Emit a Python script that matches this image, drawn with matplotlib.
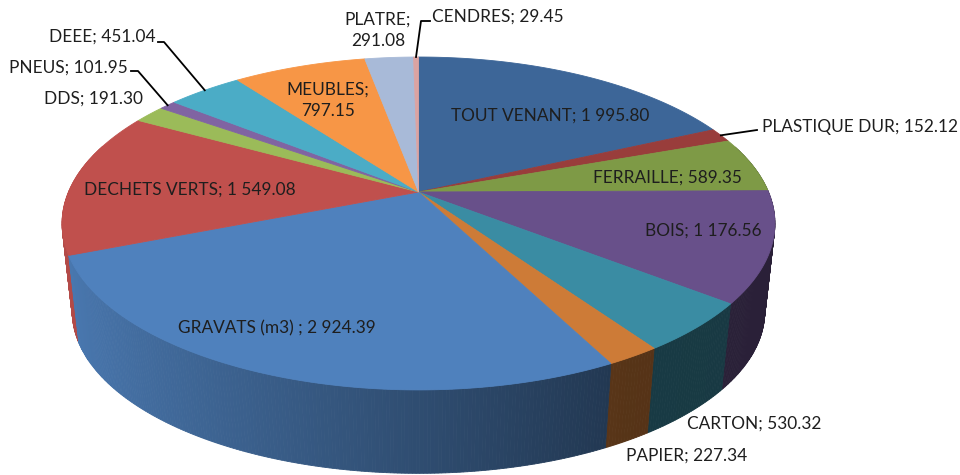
import numpy as np
import matplotlib.pyplot as plt
from matplotlib.patches import Polygon
from matplotlib.colors import to_rgb

plt.rcParams['font.family'] = ['Lato', 'DejaVu Sans']

# data, clockwise from 12 o'clock
categories = ['TOUT VENANT', 'PLASTIQUE DUR', 'FERRAILLE', 'BOIS', 'CARTON', 'PAPIER',
              'GRAVATS (m3) ', 'DECHETS VERTS', 'DDS', 'PNEUS', 'DEEE', 'MEUBLES',
              'PLATRE', 'CENDRES']
values = [1995.80, 152.12, 589.35, 1176.56, 530.32, 227.34, 2924.39, 1549.08,
          191.30, 101.95, 451.04, 797.15, 291.08, 29.45]
colors = ['#3D6698', '#993D3B', '#7E9A46', '#68508A', '#3A8CA3', '#CD7B37',
          '#4F81BD', '#C0504D', '#9BBB59', '#8064A2', '#4BACC6', '#F79646',
          '#A8BAD8', '#DBA3A2']

# label layout (pixel coords): x, y, ha, leader elbow or None
label_pos = {
    'TOUT VENANT': (550, 116, 'center', None),
    'PLASTIQUE DUR': (762, 127, 'left', [(757, 130)]),
    'FERRAILLE': (667, 178, 'center', None),
    'BOIS': (703, 231, 'center', None),
    'CARTON': (754, 424, 'center', None),
    'PAPIER': (687, 456, 'center', None),
    'GRAVATS (m3) ': (277, 328, 'center', None),
    'DECHETS VERTS': (190, 190, 'center', None),
    'DDS': (143, 99, 'right', None),
    'PNEUS': (128, 68, 'right', [(138, 71), (131, 71)]),
    'DEEE': (156, 37, 'right', [(164, 42), (158, 42)]),
    'MEUBLES': (328, 100, 'center', None),
    'PLATRE': (378, 30, 'center', None),
    'CENDRES': (432, 17, 'left', [(421, 21), (430, 21)]),
}
wrapped = {'MEUBLES', 'PLATRE'}

# projection of the pie (pixels)
CX, CY, A, B, K = 418.5, 192, 350, 160.5, 0.189
CY2, A2, B2 = 281, 340, 156


def ring(t, a, b, cy):
    s = 1 + K * np.sin(t)
    return CX + a * np.cos(t) / s, cy - b * np.sin(t) / s


fig = plt.figure(figsize=(9.6, 4.75), dpi=100)
ax = fig.add_axes([0, 0, 1, 1])
ax.set_xlim(0, 960)
ax.set_ylim(475, 0)
ax.axis('off')

vals = np.array(values)
cum = np.concatenate([[0], np.cumsum(vals)]) / vals.sum()
starts = np.pi / 2 - 2 * np.pi * cum[:-1]
ends = np.pi / 2 - 2 * np.pi * cum[1:]

# side walls, back to front
strips = []
for t0, t1, c in zip(starts, ends, colors):
    n = max(2, int(np.degrees(t0 - t1) / 0.5) + 1)
    ts = np.linspace(t0, t1, n)
    xt, yt = ring(ts, A, B, CY)
    xb, yb = ring(ts, A2, B2, CY2)
    base = np.array(to_rgb(c))
    for i in range(n - 1):
        tm = 0.5 * (ts[i] + ts[i + 1])
        if np.sin(tm) > 0.3:
            continue
        f = np.interp(np.cos(tm), [-1, 0.5, 1], [0.95, 0.42, 0.40])
        pts = [(xt[i], yt[i]), (xt[i + 1], yt[i + 1]), (xb[i + 1], yb[i + 1]), (xb[i], yb[i])]
        strips.append((np.sin(tm), pts, base * f))
strips.sort(key=lambda s: -s[0])
for _, pts, col in strips:
    ax.add_patch(Polygon(pts, closed=True, fc=col, ec=col, lw=0.6))

# top face
for t0, t1, c in zip(starts, ends, colors):
    n = max(2, int(np.degrees(t0 - t1) / 0.5) + 1)
    ts = np.linspace(t0, t1, n)
    xt, yt = ring(ts, A, B, CY)
    pts = [(CX, CY)] + list(zip(xt, yt))
    ax.add_patch(Polygon(pts, closed=True, fc=c, ec=c, lw=0.6))

# labels
for name, v, t0, t1 in zip(categories, values, starts, ends):
    x, y, ha, elbow = label_pos[name]
    num = f'{v:,.2f}'.replace(',', ' ')
    sep = '\n' if name in wrapped else ' '
    ax.text(x, y, f'{name};{sep}{num}', ha=ha, va='center', fontsize=12.4,
            color='#1e1e1e', linespacing=1.4)
    if elbow:
        px, py = ring(0.5 * (t0 + t1), A, B, CY)
        lx = [px] + [p[0] for p in elbow]
        ly = [py] + [p[1] for p in elbow]
        ax.plot(lx, ly, color='black', lw=1.3)

fig.savefig('out.png', dpi=100)
